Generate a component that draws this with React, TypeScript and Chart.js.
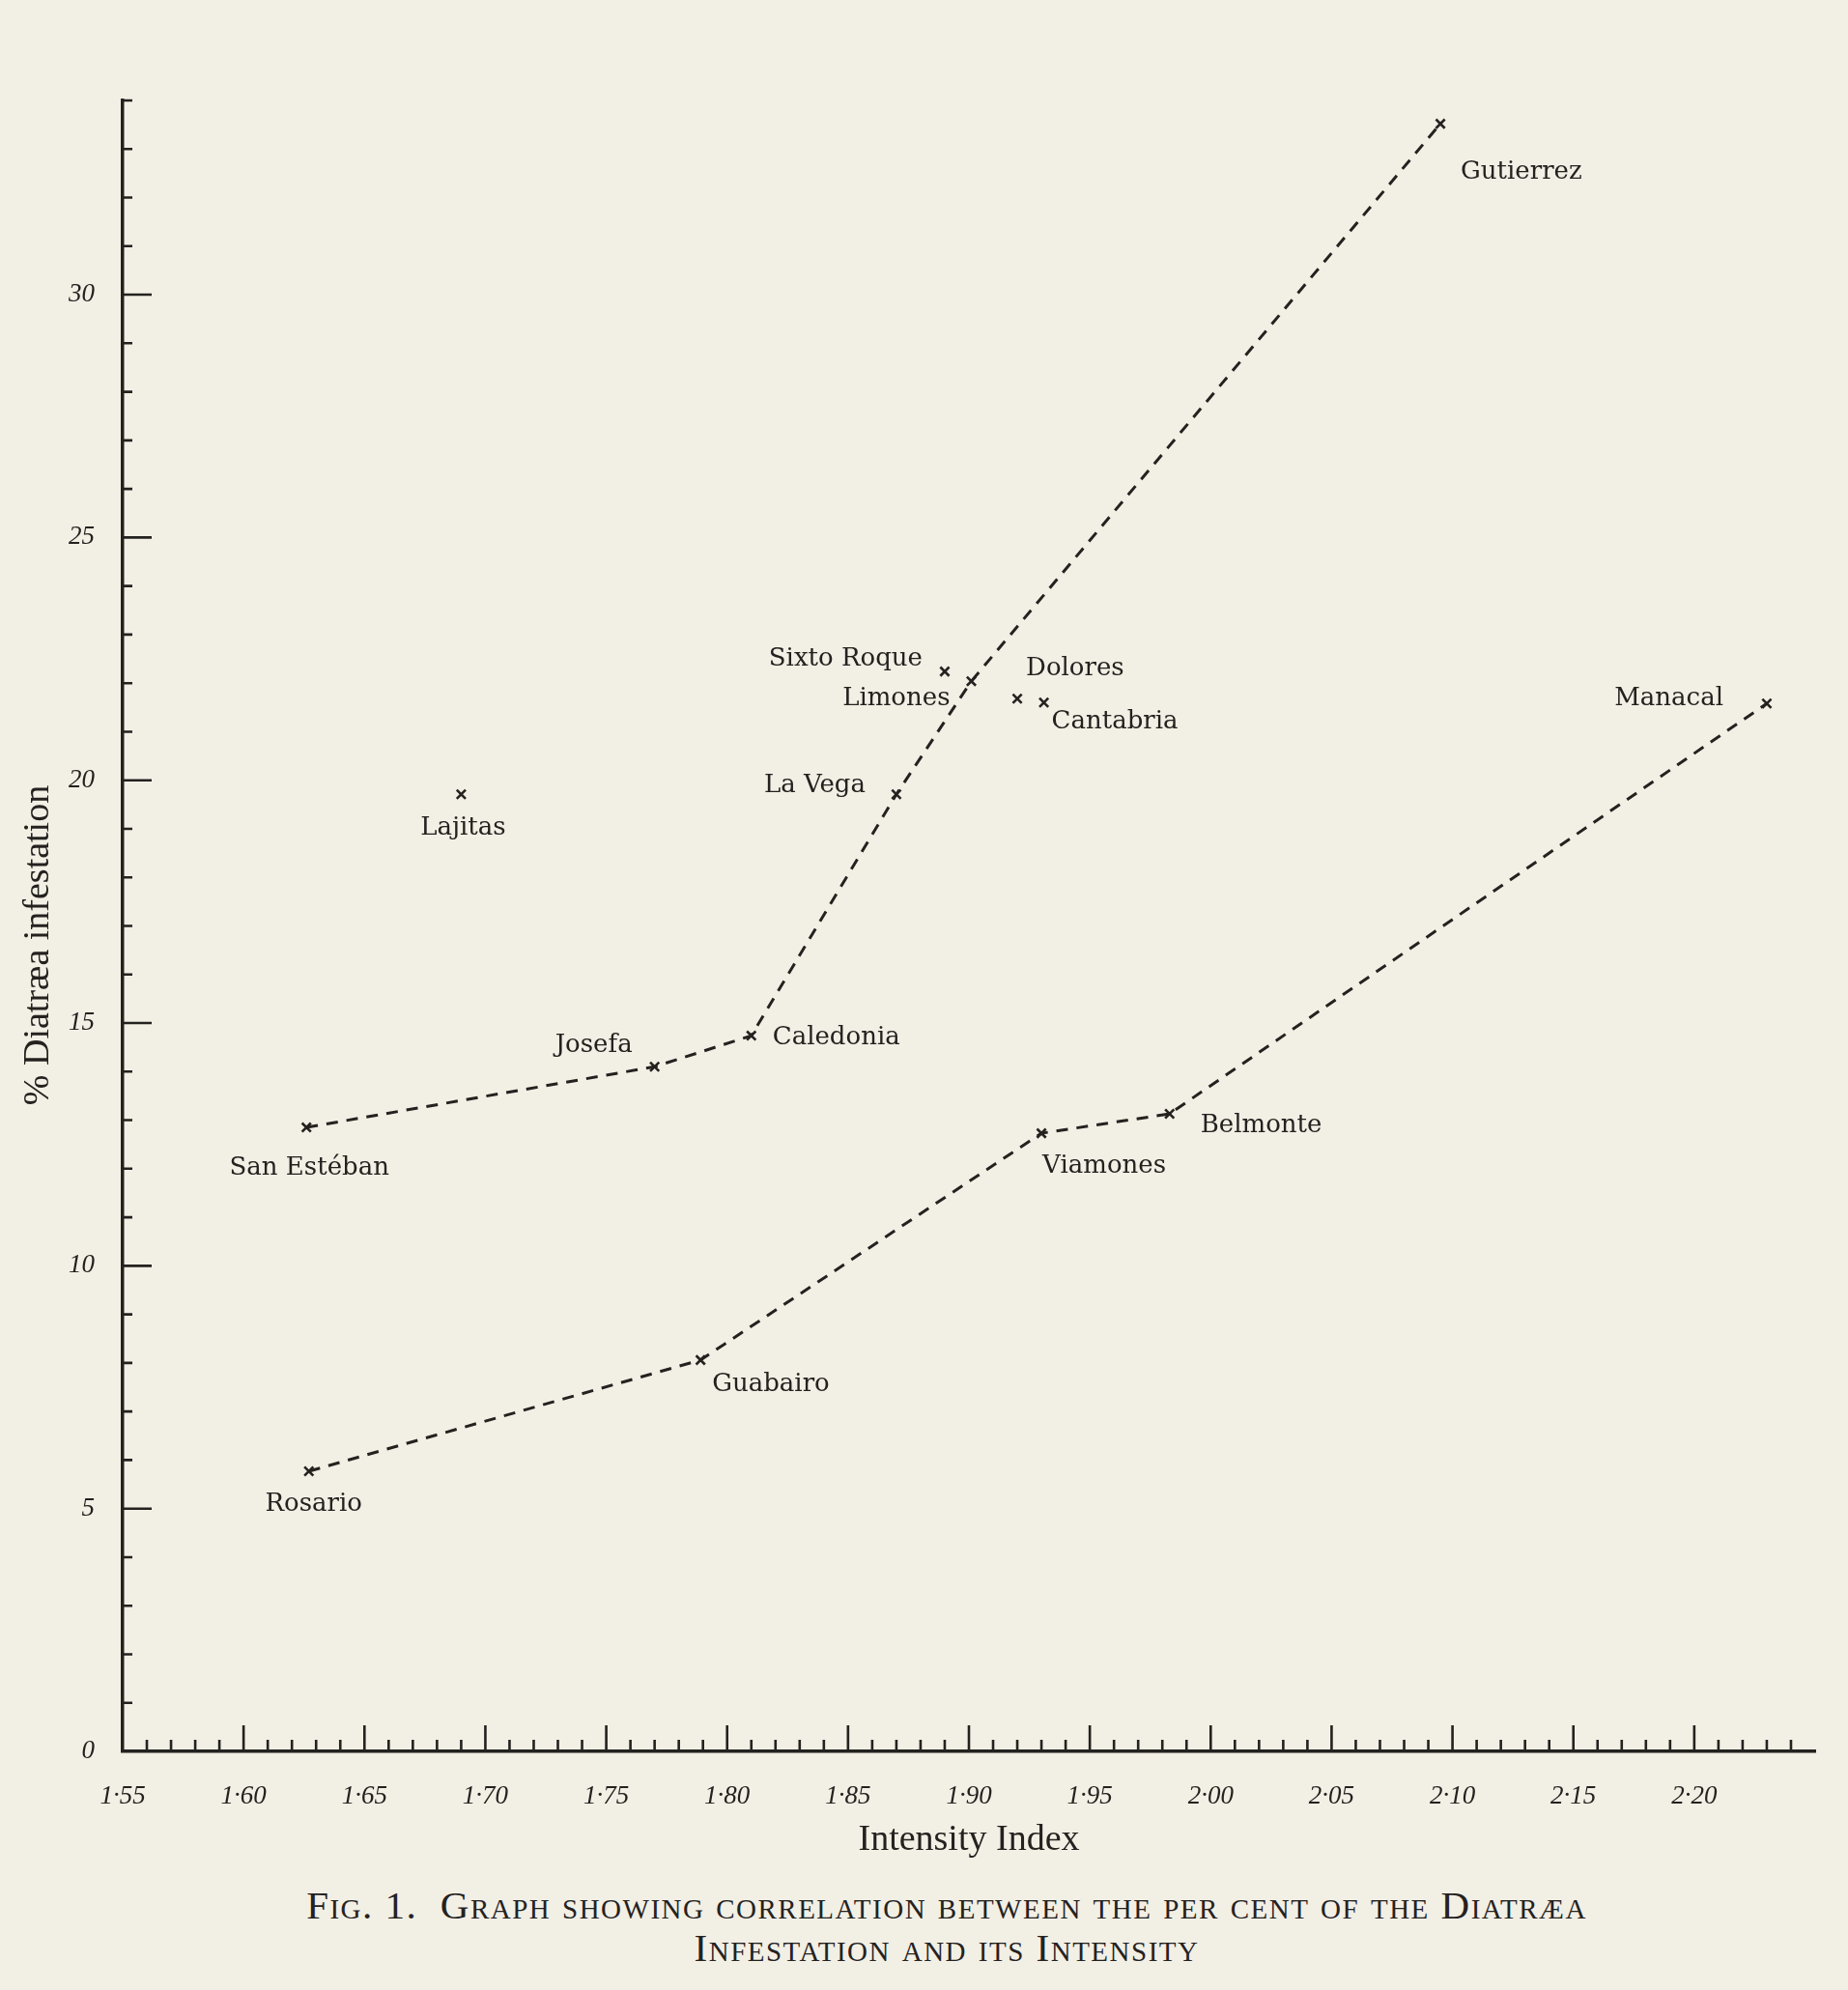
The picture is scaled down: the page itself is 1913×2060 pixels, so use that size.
import React, { useEffect, useRef } from 'react'
import Chart from 'chart.js/auto'

const INK = '#24221f'
const PAPER = '#f2efe5'

// upper dashed curve
const upperNames = ['San Estéban', 'Josefa', 'Caledonia', 'La Vega', 'Limones', 'Gutierrez']
const upperIndex = [1.626, 1.770, 1.810, 1.870, 1.901, 2.095]
const upperInfest = [12.85, 14.10, 14.74, 19.71, 22.04, 33.52]

// lower dashed curve
const lowerNames = ['Rosario', 'Guabairo', 'Viamones', 'Belmonte', 'Manacal']
const lowerIndex = [1.627, 1.789, 1.930, 1.983, 2.230]
const lowerInfest = [5.77, 8.06, 12.73, 13.13, 21.58]

// points not joined
const loneNames = ['Sixto Roque', 'Dolores', 'Cantabria', 'Lajitas']
const loneIndex = [1.890, 1.920, 1.931, 1.690]
const loneInfest = [22.24, 21.68, 21.60, 19.71]

const xTickValues = [1.55, 1.6, 1.65, 1.7, 1.75, 1.8, 1.85, 1.9, 1.95, 2.0, 2.05, 2.1, 2.15, 2.2]
const xTickLabels = ['1·55', '1·60', '1·65', '1·70', '1·75', '1·80', '1·85', '1·90', '1·95', '2·00', '2·05', '2·10', '2·15', '2·20']
const yTickValues = [0, 5, 10, 15, 20, 25, 30]

const yTitle = '% Diatræa infestation'

// where each name sits relative to its cross: [align, dx, dy]
const namePlacement: Record<string, [CanvasTextAlign, number, number]> = {
  'San Estéban': ['center', 3, 42],
  Josefa: ['right', -23, -22],
  Caledonia: ['left', 22, 2],
  'La Vega': ['right', -32, -9],
  Limones: ['right', -22, 18],
  Gutierrez: ['left', 21, 50],
  'Sixto Roque': ['right', -23, -13],
  Dolores: ['left', 9, -31],
  Cantabria: ['left', 8, 20],
  Lajitas: ['center', 2, 35],
  Rosario: ['center', 5, 34],
  Guabairo: ['left', 12, 25],
  Viamones: ['left', 1, 34],
  Belmonte: ['left', 32, 12],
  Manacal: ['right', -45, -5]
}

const toPoints = (xs: number[], ys: number[]) => xs.map((x, i) => ({ x, y: ys[i] }))

const inkTicks = {
  id: 'inkTicks',
  afterDraw: (chart: any) => {
    const { ctx, scales } = chart
    const xs = scales.x
    const ys = scales.y
    const x0 = xs.left
    const y0 = ys.bottom
    ctx.save()
    ctx.strokeStyle = INK
    ctx.lineWidth = 2.6
    ctx.beginPath()
    for (let i = 156; i <= 224; i++) {
      const px = xs.getPixelForValue(i / 100)
      const len = i % 5 === 0 ? 27 : 12
      ctx.moveTo(px, y0)
      ctx.lineTo(px, y0 - len)
    }
    for (let j = 1; j <= 34; j++) {
      const py = ys.getPixelForValue(j)
      const len = j % 5 === 0 ? 30 : 10
      ctx.moveTo(x0, py)
      ctx.lineTo(x0 + len, py)
    }
    ctx.stroke()

    // vertical axis title, a little below the middle as in the print
    ctx.fillStyle = INK
    ctx.font = '38px "Liberation Serif"'
    ctx.textAlign = 'center'
    ctx.textBaseline = 'middle'
    ctx.translate(40, (ys.top + ys.bottom) / 2 + 20)
    ctx.rotate(-Math.PI / 2)
    ctx.fillText(yTitle, 0, 0)
    ctx.restore()
  }
}

const placeNames = {
  id: 'placeNames',
  afterDatasetsDraw: (chart: any) => {
    const { ctx, scales } = chart
    const groups: [string[], number[], number[]][] = [
      [upperNames, upperIndex, upperInfest],
      [lowerNames, lowerIndex, lowerInfest],
      [loneNames, loneIndex, loneInfest]
    ]
    ctx.save()
    ctx.fillStyle = INK
    ctx.font = '26px "DejaVu Serif"'
    ctx.textBaseline = 'middle'
    groups.forEach(([names, xs, ys]) => {
      names.forEach((name, i) => {
        const [align, dx, dy] = namePlacement[name]
        ctx.textAlign = align
        ctx.fillText(name, scales.x.getPixelForValue(xs[i]) + dx, scales.y.getPixelForValue(ys[i]) + dy)
      })
    })
    ctx.restore()
  }
}

const App: React.FC = () => {
  const canvasRef = useRef<HTMLCanvasElement | null>(null)
  const chartRef = useRef<Chart | null>(null)

  useEffect(() => {
    if (canvasRef.current === null) return
    if (chartRef.current !== null) chartRef.current.destroy()

    const marker = {
      pointStyle: 'crossRot' as const,
      pointRadius: 6.5,
      pointBorderWidth: 2.6,
      pointBorderColor: INK,
      pointBackgroundColor: INK
    }

    chartRef.current = new Chart(canvasRef.current, {
      type: 'scatter',
      data: {
        datasets: [
          {
            data: toPoints(upperIndex, upperInfest),
            showLine: true,
            borderColor: INK,
            borderWidth: 3,
            borderDash: [12, 9],
            ...marker
          },
          {
            data: toPoints(lowerIndex, lowerInfest),
            showLine: true,
            borderColor: INK,
            borderWidth: 3,
            borderDash: [12, 9],
            ...marker
          },
          {
            data: toPoints(loneIndex, loneInfest),
            showLine: false,
            ...marker
          }
        ]
      },
      options: {
        responsive: true,
        maintainAspectRatio: false,
        animation: false,
        layout: { padding: { top: 104, right: 34, left: 0, bottom: 0 } },
        plugins: {
          legend: { display: false },
          tooltip: { enabled: false }
        },
        scales: {
          x: {
            type: 'linear',
            min: 1.55,
            max: 2.25,
            grid: { display: false, drawTicks: false },
            border: { display: true, color: INK, width: 3.5 },
            afterBuildTicks: (scale: any) => {
              scale.ticks = xTickValues.map((v) => ({ value: v }))
            },
            afterFit: (scale: any) => {
              scale.height = 132
            },
            ticks: {
              autoSkip: false,
              maxRotation: 0,
              padding: 31,
              color: INK,
              font: { family: '"Liberation Serif"', size: 27, style: 'italic' },
              callback: (v: any) => xTickLabels[xTickValues.findIndex((t) => Math.abs(t - v) < 1e-6)] ?? ''
            },
            title: {
              display: true,
              text: 'Intensity Index',
              color: INK,
              font: { family: '"Liberation Serif"', size: 38 },
              padding: { top: 0, bottom: 17 }
            }
          },
          y: {
            type: 'linear',
            min: 0,
            max: 34,
            grid: { display: false, drawTicks: false },
            border: { display: true, color: INK, width: 3.5 },
            afterBuildTicks: (scale: any) => {
              scale.ticks = yTickValues.map((v) => ({ value: v }))
            },
            afterFit: (scale: any) => {
              scale.width = 127
            },
            ticks: {
              padding: 29,
              color: INK,
              font: { family: '"Liberation Serif"', size: 27, style: 'italic' }
            },
            title: { display: false }
          }
        }
      },
      plugins: [inkTicks, placeNames]
    })

    return () => {
      if (chartRef.current !== null) {
        chartRef.current.destroy()
        chartRef.current = null
      }
    }
  }, [])

  return (
    <div style={{ position: 'absolute', left: 0, top: 0, width: 1913, height: 2060, background: PAPER, overflow: 'hidden' }}>
      <div style={{ position: 'absolute', left: 0, top: 0, width: 1913, height: 1945 }}>
        <canvas ref={canvasRef} />
      </div>
      <div
        style={{
          position: 'absolute',
          left: 230,
          top: 1950,
          width: 1500,
          textAlign: 'center',
          fontFamily: '"Liberation Serif", serif',
          fontSize: 41,
          fontVariant: 'small-caps',
          letterSpacing: 1.5,
          lineHeight: '44px',
          color: INK
        }}
      >
        <div>Fig. 1.&nbsp; Graph showing correlation between the per cent of the Diatræa</div>
        <div>Infestation and its Intensity</div>
      </div>
    </div>
  )
}

export default App
